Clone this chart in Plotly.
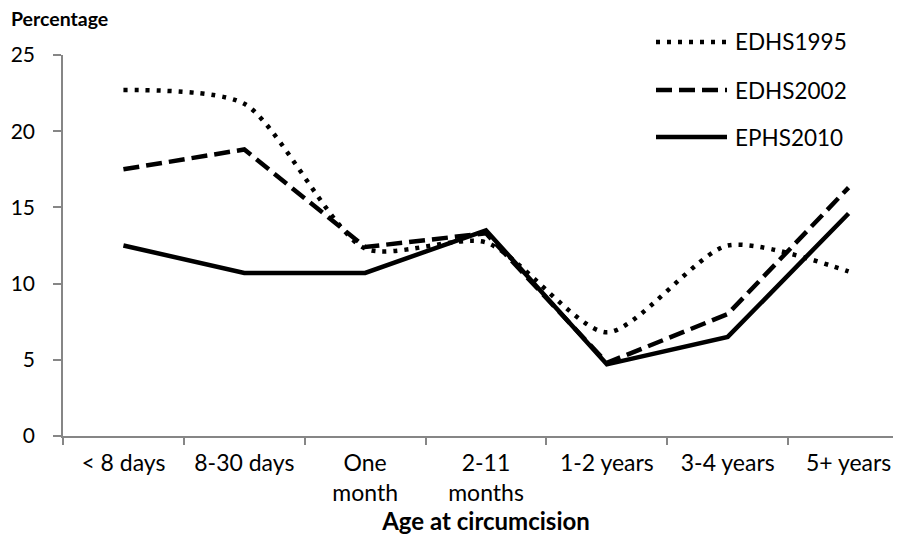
import plotly.graph_objects as go

categories = ["< 8 days", "8-30 days", "One<br>month", "2-11<br>months", "1-2 years", "3-4 years", "5+ years"]
edhs1995 = [22.7, 21.8, 12.3, 12.7, 6.8, 12.5, 10.8]
edhs2002 = [17.5, 18.8, 12.4, 13.3, 4.8, 8.0, 16.3]
ephs2010 = [12.5, 10.7, 10.7, 13.5, 4.7, 6.5, 14.6]
series_names = ["EDHS1995", "EDHS2002", "EPHS2010"]
y_ticks = [0, 5, 10, 15, 20, 25]

FONT = "Lato, 'Open Sans', sans-serif"
styles = [
    dict(dash="4px,7px", width=4.5, shape="spline"),
    dict(dash="16px,7px", width=4.5, shape="linear"),
    dict(dash="solid", width=4.5, shape="linear"),
]

fig = go.Figure()
for name, vals, st in zip(series_names, [edhs1995, edhs2002, ephs2010], styles):
    fig.add_trace(go.Scatter(
        x=categories, y=vals, name=name, mode="lines",
        line=dict(color="black", width=st["width"], dash=st["dash"], shape=st["shape"], smoothing=0.7),
        showlegend=False,
    ))

# page offset (browser body margin) = 8px
OFF = 8
W, H = 901, 559
L, R, T, B = 55, 0, 47, 131
pw, ph = W - L - R, H - T - B
def px(x):
    return (x - OFF - L) / pw
def py(y):
    return (H - B - (y - OFF)) / ph

legend_rows = [42, 90, 137]
for name, st, yy in zip(series_names, styles, legend_rows):
    fig.add_shape(type="line", xref="paper", yref="paper",
                  x0=px(656), x1=px(727), y0=py(yy), y1=py(yy),
                  line=dict(color="black", width=st["width"], dash=st["dash"]))
    fig.add_annotation(xref="paper", yref="paper", x=px(733), y=py(yy),
                       text=name, showarrow=False, xanchor="left", yanchor="middle",
                       font=dict(family=FONT, size=22.5, color="black"))

fig.add_annotation(xref="paper", yref="paper", x=px(9), y=py(18), text="<b>Percentage</b>",
                   showarrow=False, xanchor="left", yanchor="middle",
                   font=dict(family=FONT, size=19.5, color="black"))

fig.update_layout(
    width=W, height=H,
    margin=dict(l=L, r=R, t=T, b=B, autoexpand=False),
    paper_bgcolor="white", plot_bgcolor="white",
    font=dict(family=FONT, color="black"),
    xaxis=dict(
        type="category", range=[-0.5, 6.5],
        showline=True, linecolor="#868686", linewidth=1.5,
        ticks="outside", tickson="boundaries", ticklen=7, tickcolor="#868686", tickwidth=1.5,
        showgrid=False, zeroline=False, automargin=False,
        tickfont=dict(family=FONT, size=23, color="black"),
        ticklabelstandoff=6,
        title=dict(text="<b>Age at circumcision</b>", font=dict(family=FONT, size=24, color="black"), standoff=8),
    ),
    yaxis=dict(
        range=[0, 25], tickvals=y_ticks,
        showline=True, linecolor="#868686", linewidth=1.5,
        ticks="outside", ticklen=8, tickcolor="#868686", tickwidth=1.5,
        showgrid=False, zeroline=False, automargin=False,
        tickfont=dict(family=FONT, size=21, color="black"),
        ticklabelstandoff=14,
    ),
)

fig.write_html("out.html")
